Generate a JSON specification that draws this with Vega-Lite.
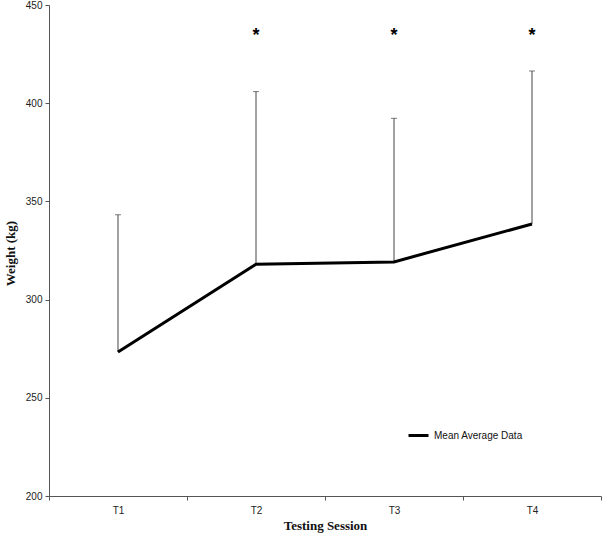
{
  "$schema": "https://vega.github.io/schema/vega-lite/v6.json",
  "width": 552,
  "height": 491,
  "autosize": "none",
  "padding": {"left": 49, "top": 5, "right": 1, "bottom": 37},
  "background": "white",
  "config": {
    "view": {"stroke": null},
    "axis": {"grid": false, "domainColor": "#555", "tickColor": "#555", "labelFont": "Liberation Sans", "labelFontSize": 10, "labelColor": "#222", "titleFont": "Liberation Serif", "titleFontSize": 13, "titleFontWeight": "bold", "titleColor": "#111", "tickSize": 4}
  },
  "data": {"values": [
    {"session": "T1", "mean": 273.3, "upper": 343.2, "star": null},
    {"session": "T2", "mean": 318.0, "upper": 405.9, "star": "*"},
    {"session": "T3", "mean": 319.2, "upper": 392.3, "star": "*"},
    {"session": "T4", "mean": 338.5, "upper": 416.4, "star": "*"}
  ]},
  "encoding": {
    "x": {"field": "session", "type": "nominal", "scale": {"paddingInner": 0, "paddingOuter": 0},
      "axis": {"title": "Testing Session", "labelAngle": 0, "tickBand": "extent", "labelPadding": 5, "titleBaseline": "alphabetic", "titleY": 33}}
  },
  "layer": [
    {
      "mark": {"type": "rule", "color": "#444", "strokeWidth": 1},
      "encoding": {
        "y": {"field": "mean", "type": "quantitative", "scale": {"domain": [200, 450], "nice": false, "zero": false},
          "axis": {"title": "Weight (kg)", "values": [200, 250, 300, 350, 400, 450], "titleX": -35, "titleY": 248, "titleBaseline": "alphabetic", "labelPadding": 3}},
        "y2": {"field": "upper"}
      }
    },
    {
      "mark": {"type": "tick", "color": "#444", "size": 6, "thickness": 1},
      "encoding": {"y": {"field": "upper", "type": "quantitative"}}
    },
    {
      "mark": {"type": "line", "strokeWidth": 3},
      "encoding": {
        "y": {"field": "mean", "type": "quantitative"},
        "color": {"datum": "Mean Average Data", "type": "nominal", "scale": {"range": ["#000000"]},
          "legend": {"title": null, "orient": "none", "legendX": 358, "legendY": 419, "symbolType": "stroke", "symbolStrokeWidth": 3, "symbolSize": 400, "labelFont": "Liberation Sans", "labelFontSize": 10, "labelColor": "#111", "labelOffset": 4}}
      }
    },
    {
      "transform": [{"filter": "datum.star != null"}],
      "mark": {"type": "text", "fontSize": 18, "fontWeight": "bold", "font": "Liberation Sans", "baseline": "middle", "dy": 4, "color": "#000"},
      "encoding": {"y": {"datum": 436, "type": "quantitative"}, "text": {"field": "star"}}
    }
  ]
}
